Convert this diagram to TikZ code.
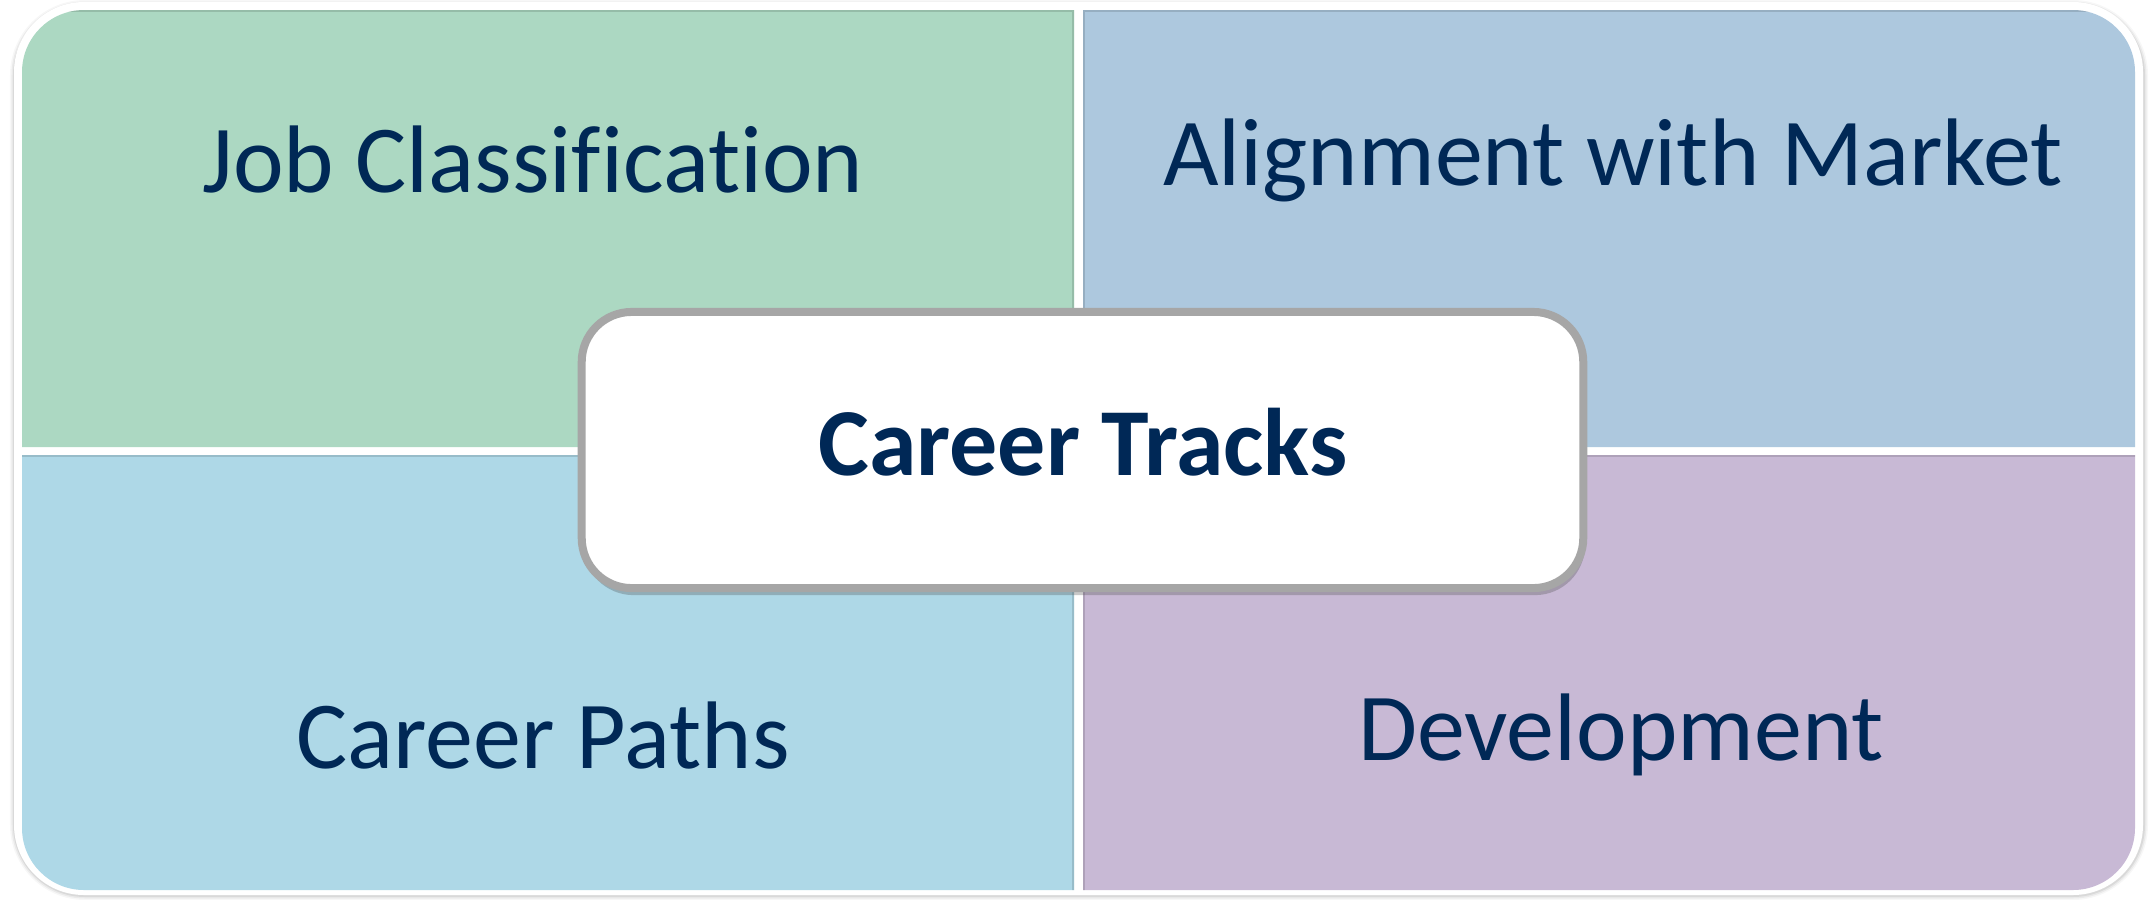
\documentclass[tikz,border=0pt]{standalone}
\usepackage{fontspec}
\setmainfont{Carlito}[Ligatures=NoCommon]
\usetikzlibrary{shadows}
\definecolor{qgreen}{RGB}{172,216,194}
\definecolor{qblue}{RGB}{173,200,222}
\definecolor{qlight}{RGB}{174,216,231}
\definecolor{qpurple}{RGB}{200,185,213}
\definecolor{navy}{RGB}{0,40,86}
\definecolor{boxgray}{RGB}{166,166,166}
\tikzset{
  qlabel/.style={anchor=base, text=navy, font=\fontsize{27.3}{32}\selectfont, inner sep=0pt},
  centerbox/.style={draw=boxgray, line width=8*0.2845pt, fill=white, rounded corners=0.5cm,
     minimum width=10.01cm, minimum height=2.76cm, inner sep=0pt,
     drop shadow={shadow xshift=0.5pt, shadow yshift=-2pt, opacity=0.3, fill=black!70}},
  edgeshade/.style={draw=black, draw opacity=0.13, line width=2.3pt}
}
\begin{document}
\begin{tikzpicture}[x=0.01cm,y=-0.01cm]
\useasboundingbox (0,0) rectangle (2150,899);
% outer white frame with soft shadow
\foreach \w/\o in {10/0.03,7/0.05,4/0.07}{
  \draw[black, draw opacity=\o, line width=\w*0.2845pt, rounded corners=0.7cm] (15,5) rectangle (2143,895);
}
\fill[white, rounded corners=0.7cm] (14,2) rectangle (2143,895);
% quadrants
\path[fill=qgreen] (22,447) [rounded corners=0.62cm] -- (22,10) [sharp corners] -- (1074,10) -- (1074,447) -- cycle;
\path[fill=qblue] (1083,10) [rounded corners=0.62cm] -- (2135,10) [sharp corners] -- (2135,447) -- (1083,447) -- cycle;
\path[fill=qlight] (22,455) [rounded corners=0.62cm] -- (22,890) [sharp corners] -- (1074,890) -- (1074,455) -- cycle;
\path[fill=qpurple] (1083,455) -- (2135,455) [rounded corners=0.62cm] -- (2135,890) [sharp corners] -- (1083,890) -- cycle;
% inner edge shading
\begin{scope}
  \clip (22,447) [rounded corners=0.62cm] -- (22,10) [sharp corners] -- (1074,10) -- (1074,447) -- cycle;
  \draw[edgeshade] (20,8) -- (1076,8) -- (1076,449);
\end{scope}
\begin{scope}
  \clip (1083,10) [rounded corners=0.62cm] -- (2135,10) [sharp corners] -- (2135,447) -- (1083,447) -- cycle;
  \draw[edgeshade] (1081,449) -- (1081,8) -- (2137,8);
\end{scope}
\begin{scope}
  \clip (22,455) [rounded corners=0.62cm] -- (22,890) [sharp corners] -- (1074,890) -- (1074,455) -- cycle;
  \draw[edgeshade] (20,453) -- (1076,453) -- (1076,892);
\end{scope}
\begin{scope}
  \clip (1083,455) -- (2135,455) [rounded corners=0.62cm] -- (2135,890) [sharp corners] -- (1083,890) -- cycle;
  \draw[edgeshade] (1081,892) -- (1081,453) -- (2137,453);
\end{scope}
% labels
\node[qlabel] (job) at (533,192) {Job Classification};
\node[qlabel] (align) at (1613,185) {Alignment with Market};
\node[qlabel] (paths) at (543,768) {Career Paths};
\node[qlabel] (dev) at (1621,760) {Development};
% centre box
\node[centerbox] (core) at (1082.5,450) {};
\node[qlabel, font=\fontsize{27.3}{32}\selectfont\bfseries] (tracks) at (1083,475) {Career Tracks};
\end{tikzpicture}
\end{document}
